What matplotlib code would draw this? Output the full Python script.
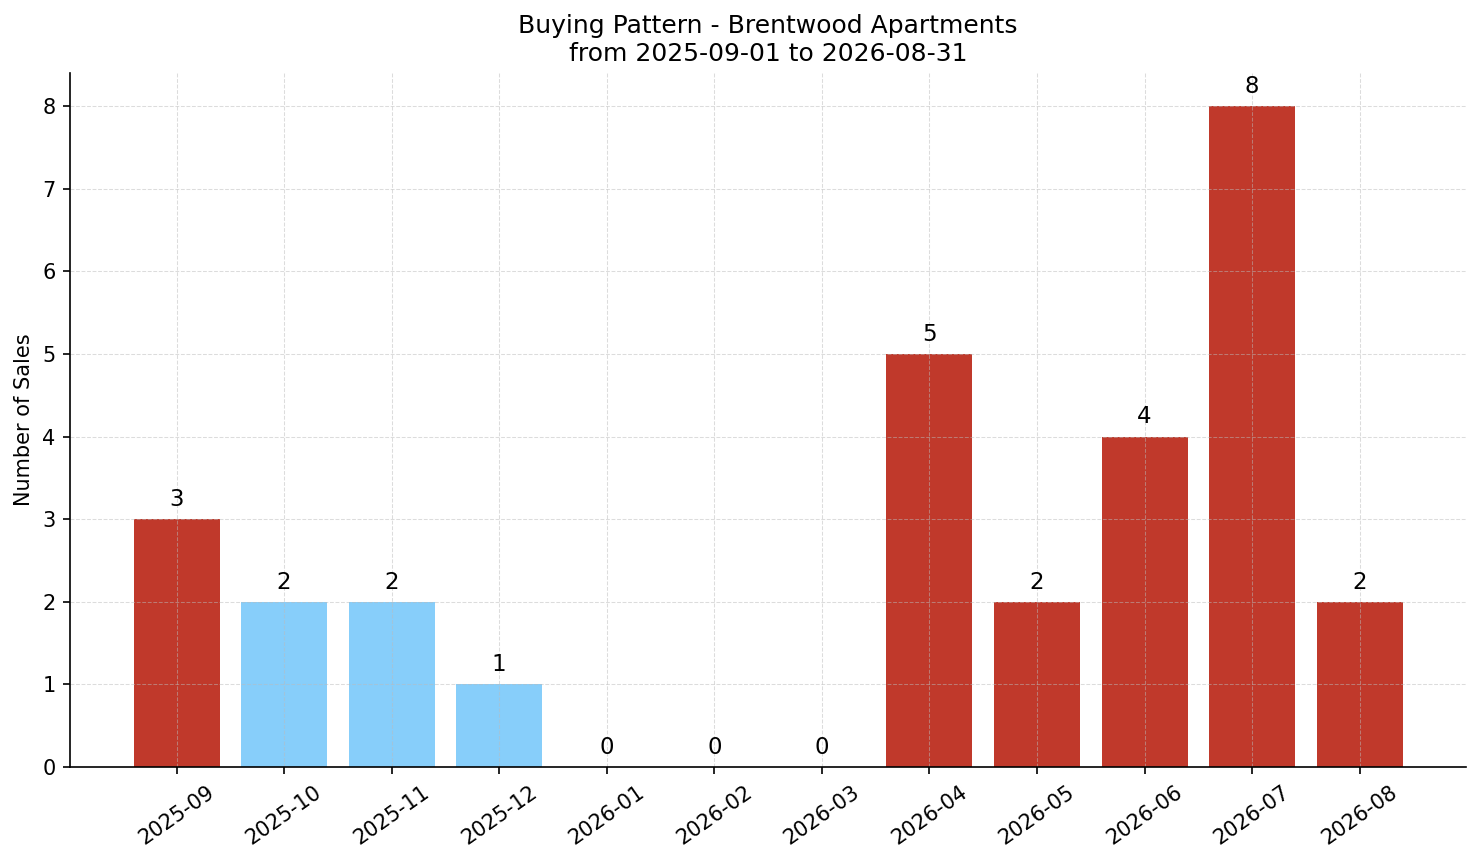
import matplotlib
matplotlib.use("Agg")
import matplotlib.pyplot as plt

months = ["2025-09", "2025-10", "2025-11", "2025-12", "2026-01", "2026-02",
          "2026-03", "2026-04", "2026-05", "2026-06", "2026-07", "2026-08"]
sales = [3, 2, 2, 1, 0, 0, 0, 5, 2, 4, 8, 2]
bar_colors = ["#c0392b", "#87cefa", "#87cefa", "#87cefa", "#87cefa", "#87cefa",
              "#87cefa", "#c0392b", "#c0392b", "#c0392b", "#c0392b", "#c0392b"]

fig, ax = plt.subplots(figsize=(1481 / 150, 863 / 150), dpi=150)
fig.subplots_adjust(left=0.0473, right=0.990, top=0.9154, bottom=0.1112)

x = list(range(len(months)))
ax.bar(x, sales, color=bar_colors, width=0.8)

# value labels above each bar
for i, v in zip(x, sales):
    ax.text(i, v + 0.1, str(v), ha="center", va="bottom", fontsize=11)

ax.set_xticks(x)
ax.set_xticklabels(months, rotation=35, ha="center")
ax.set_ylim(0, 8.4)
ax.set_ylabel("Number of Sales")
ax.set_title("Buying Pattern - Brentwood Apartments\nfrom 2025-09-01 to 2026-08-31", fontsize=12)
ax.grid(True, linestyle="--", alpha=0.5, color="#bbbbbb", linewidth=0.5)
ax.spines["top"].set_visible(False)
ax.spines["right"].set_visible(False)

plt.savefig("out.png", dpi=150)
